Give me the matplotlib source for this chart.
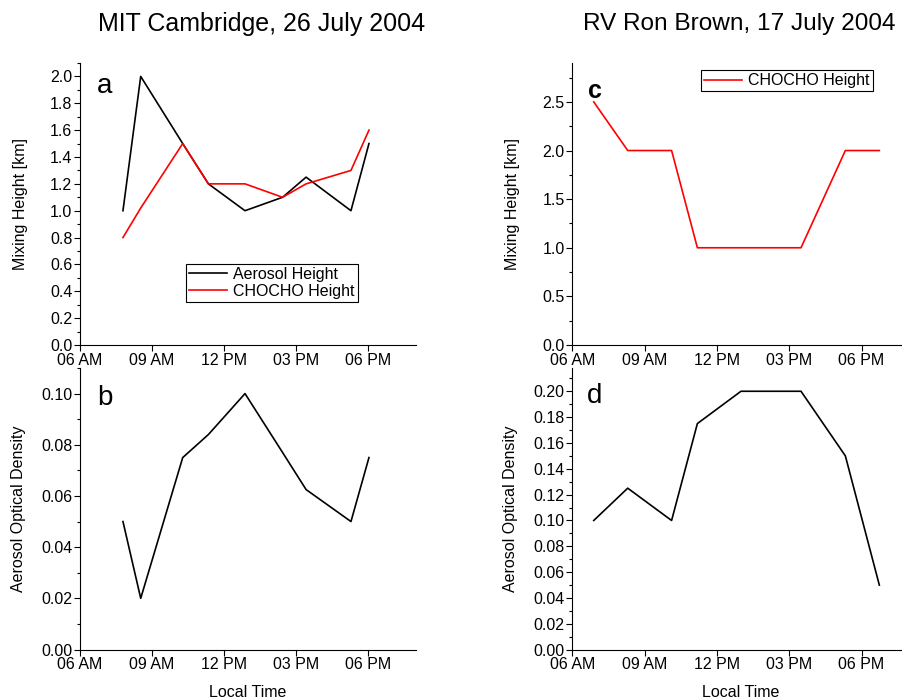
import numpy as np
import matplotlib
matplotlib.use("Agg")
import matplotlib.pyplot as plt
from matplotlib.ticker import MultipleLocator, FormatStrFormatter

plt.rcParams['font.family'] = ['Liberation Sans', 'DejaVu Sans']
plt.rcParams['font.size'] = 11.5

# local time in hours
mit_time = [7.79, 8.53, 10.28, 11.35, 12.875, 14.44, 15.42, 17.29, 18.04]
mit_aerosol_height = [1.0, 2.0, 1.5, 1.2, 1.0, 1.1, 1.25, 1.0, 1.5]
mit_chocho_time = [7.79, 8.53, 10.28, 11.35, 12.875, 14.44, 15.42, 17.29, 18.04]
mit_chocho_height = [0.8, 1.02, 1.5, 1.2, 1.2, 1.1, 1.2, 1.3, 1.6]
mit_aod = [0.05, 0.02, 0.075, 0.084, 0.10, 0.077, 0.0625, 0.05, 0.075]

rb_chocho_time = [6.89, 8.30, 10.12, 11.19, 15.49, 17.33, 18.74]
rb_chocho_height = [2.5, 2.0, 2.0, 1.0, 1.0, 2.0, 2.0]
rb_aod_time = [6.89, 8.30, 10.12, 11.19, 13.0, 15.49, 17.33, 18.74]
rb_aod = [0.10, 0.125, 0.10, 0.175, 0.20, 0.20, 0.15, 0.05]

xticks = [6, 9, 12, 15, 18]
xticklabels = ["06 AM", "09 AM", "12 PM", "03 PM", "06 PM"]

W, H = 903, 699
fig = plt.figure(figsize=(W / 100, H / 100), dpi=100)


def box(x0, x1, ytop, ybot):
    return [x0 / W, 1 - ybot / H, (x1 - x0) / W, (ybot - ytop) / H]


ax_a = fig.add_axes(box(80, 416, 63, 345))
ax_b = fig.add_axes(box(80, 416, 368, 649.5))
ax_c = fig.add_axes(box(572.3, 909.7, 63, 345))
ax_d = fig.add_axes(box(572.3, 909.7, 368, 649.7))

ax_a.plot(mit_time, mit_aerosol_height, color='black', lw=1.2, label='Aerosol Height')
ax_a.plot(mit_chocho_time, mit_chocho_height, color='red', lw=1.2, label='CHOCHO Height')
ax_b.plot(mit_time, mit_aod, color='black', lw=1.2)
ax_c.plot(rb_chocho_time, rb_chocho_height, color='red', lw=1.2, label='CHOCHO Height')
ax_d.plot(rb_aod_time, rb_aod, color='black', lw=1.2)

ylims = {ax_a: (2.1, 0.2, 0.1, '%.1f'), ax_b: (0.11, 0.02, 0.01, '%.2f'),
         ax_c: (2.9, 0.5, 0.25, '%.1f'), ax_d: (0.218, 0.02, 0.01, '%.2f')}
for ax, (top, major, minor, fmt) in ylims.items():
    ax.set_xlim(6, 20)
    ax.set_ylim(0, top)
    ax.set_xticks(xticks)
    ax.set_xticklabels(xticklabels)
    ax.yaxis.set_major_locator(MultipleLocator(major))
    ax.yaxis.set_minor_locator(MultipleLocator(minor))
    ax.yaxis.set_major_formatter(FormatStrFormatter(fmt))
    ax.spines['top'].set_visible(False)
    ax.spines['right'].set_visible(False)
    for s in ('left', 'bottom'):
        ax.spines[s].set_linewidth(0.8)
    ax.tick_params(which='major', direction='out', length=4, width=0.8, labelsize=11.5, pad=1.5)
    ax.tick_params(which='minor', direction='out', length=2.2, width=0.8)

ax_a.set_ylabel('Mixing Height [km]', labelpad=16)
ax_c.set_ylabel('Mixing Height [km]', labelpad=16)
ax_b.set_ylabel('Aerosol Optical Density', labelpad=11)
ax_d.set_ylabel('Aerosol Optical Density', labelpad=11)
ax_b.set_xlabel('Local Time', labelpad=9)
ax_d.set_xlabel('Local Time', labelpad=9)

ax_a.text(0.05, 0.894, 'a', transform=ax_a.transAxes, fontsize=20)
ax_b.text(0.05, 0.869, 'b', transform=ax_b.transAxes, fontsize=20)
ax_c.text(0.047, 0.876, 'c', transform=ax_c.transAxes, fontsize=18, fontweight='bold')
ax_d.text(0.044, 0.876, 'd', transform=ax_d.transAxes, fontsize=20)

leg_kw = dict(frameon=True, fancybox=False, edgecolor='black', framealpha=1,
              borderaxespad=0, borderpad=0.2, labelspacing=0.1,
              handlelength=2.4, handletextpad=0.35, fontsize=11.5)
la = ax_a.legend(loc='lower left', bbox_to_anchor=(0.3146, 0.153), **leg_kw)
lc = ax_c.legend(loc='upper left', bbox_to_anchor=(0.381, 0.975), **leg_kw)
for leg in (la, lc):
    leg.get_frame().set_linewidth(0.8)

fig.text(98 / W, 1 - 24 / H, 'MIT Cambridge, 26 July 2004', fontsize=18, ha='left', va='center')
fig.text(583 / W, 1 - 24 / H, 'RV Ron Brown, 17 July 2004', fontsize=17.6, ha='left', va='center')

fig.savefig('out.png', dpi=100)
